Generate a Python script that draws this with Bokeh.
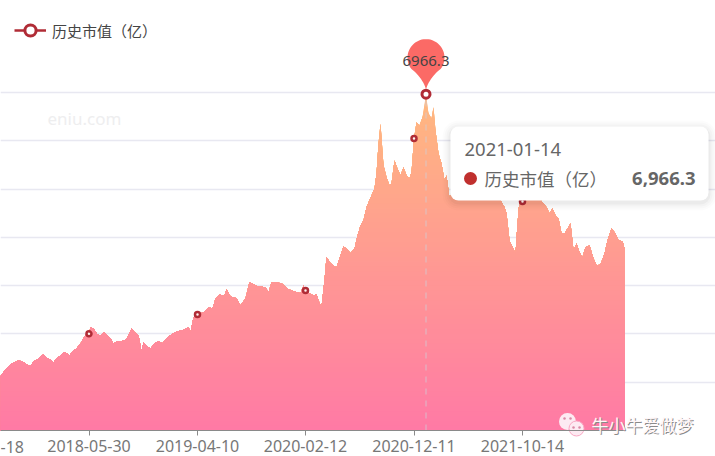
import numpy as np
from bokeh.embed import file_html
from bokeh.models import (BoxAnnotation, FixedTicker, Grid, Label, Legend, LegendItem,
                          LinearAxis, Range1d)
from bokeh.plotting import figure
from bokeh.resources import INLINE

# trading day number on the category axis, market cap in 100M yuan
days = [0, 6, 14, 22, 28, 36, 44, 52, 60, 66, 74, 80, 86, 94, 100, 106, 112, 120, 126, 132,
        138, 144, 152, 160, 166, 172, 177, 180, 186, 194, 200, 206, 214, 220, 226, 234, 240, 248, 254, 262,
        268, 276, 282, 286, 294, 300, 308, 316, 320, 324, 334, 344, 354, 366, 376, 380, 386, 394, 406, 416,
        424, 430, 438, 448, 452, 460, 472, 480, 490, 498, 504, 514, 530, 536, 542, 548, 562, 574, 586, 600,
        606, 610, 618, 626, 632, 636, 642, 648, 652, 660, 666, 672, 680, 686, 692, 700, 708, 714, 720, 726,
        732, 740, 748, 752, 756, 760, 766, 772, 778, 782, 788, 794, 800, 806, 812, 818, 822, 827, 832, 838,
        844, 851, 856, 862, 866, 870, 876, 882, 888, 892, 898, 910, 930, 950, 970, 990, 1000, 1008, 1012, 1018,
        1024, 1030, 1034, 1038, 1044, 1060, 1076, 1086, 1092, 1098, 1104, 1110, 1116, 1122, 1128, 1134, 1140, 1146, 1152, 1158,
        1164, 1170, 1178, 1186, 1192, 1200, 1208, 1214, 1222, 1230, 1236, 1244, 1248]
market_cap = [1125, 1207, 1311, 1388, 1408, 1450, 1429, 1367, 1332, 1429, 1470, 1539, 1574, 1497, 1470, 1408, 1491, 1553, 1622, 1601,
              1553, 1642, 1698, 1802, 1912, 2003, 2003, 2139, 2112, 1988, 1967, 2036, 1967, 1905, 1802, 1849, 1849, 1864, 1926, 2112,
              2036, 1967, 1642, 1822, 1740, 1692, 1808, 1849, 1829, 1808, 1932, 2003, 2057, 2085, 2139, 2036, 2346, 2402, 2450, 2554,
              2527, 2727, 2817, 2790, 2920, 2775, 2740, 2589, 2734, 3071, 3038, 2988, 2968, 2864, 3059, 3071, 3051, 2935, 2885, 2843,
              3003, 2899, 2837, 2796, 2817, 2692, 2554, 3107, 3589, 3465, 3417, 3370, 3624, 3811, 3763, 3672, 3763, 4038, 4246, 4349,
              4625, 4819, 5006, 5316, 5938, 6352, 5488, 5246, 5074, 5109, 5592, 5420, 5281, 5453, 5281, 5219, 5349, 6047, 6385, 6317,
              6489, 6966.3, 6565, 6462, 6696, 6213, 5737, 5530, 5178, 5281, 4805, 5074, 4970, 4867, 4970, 4805, 4763, 4625, 4494, 3935,
              3796, 3666, 4287, 4763, 4743, 4867, 4825, 4701, 4625, 4494, 4598, 4453, 4391, 4080, 4080, 4183, 4287, 3728, 3873, 3693,
              3589, 3796, 3831, 3562, 3417, 3438, 3659, 3935, 4183, 4080, 3935, 3920, 3769]

tick_days = [177, 394, 610, 827, 1044]
tick_labels = ["2018-05-30", "2019-04-10", "2020-02-12", "2020-12-11", "2021-10-14"]
mark_days = [177, 394, 610, 827, 1044]
mark_values = [2003, 2402, 2899, 6047, 4743]
grid_values = [1000, 2000, 3000, 4000, 5000, 6000, 7000]

first_label = "-18"
peak_day = 851
peak_value = 6966.3
peak_date = "2021-01-14"
series_name = "历史市值（亿）"

RED = "#b02c36"
CJK = "Noto Sans CJK SC"
LATIN = "Noto Sans"


def px_x(x):
    # picture pixel to axis value, one trading day is half a pixel
    return x * 2.0


def px_y(y):
    return (430 - y) * 1000 / 48.286


p = figure(width=715, height=456, output_backend="svg", toolbar_location=None,
           x_axis_location=None, y_axis_location=None, min_border=0,
           x_range=Range1d(px_x(0), px_x(715)), y_range=Range1d(px_y(456), px_y(0)))
p.outline_line_color = None
p.grid.visible = False

p.add_layout(Grid(dimension=1, ticker=FixedTicker(ticks=grid_values), bounds=(0, 1248),
                  grid_line_color="#e8e8f1", grid_line_width=1.5))

# area with a vertical gradient, painted top colour first
vals = np.array(market_cap, dtype=float)
for level in range(7000, 0, -100):
    t = level / 7000
    col = "#%02x%02x%02x" % (255, int(122 + 63 * t), int(166 - 38 * t))
    p.varea(days, np.zeros(len(days)), np.minimum(vals, level), fill_color=col)

axis = LinearAxis(ticker=FixedTicker(ticks=tick_days), fixed_location=0, bounds=(0, 1248),
                  major_label_overrides=dict(zip(tick_days, tick_labels)))
axis.axis_line_color = "#8a8a8a"
axis.major_tick_line_color = "#8a8a8a"
axis.major_tick_in = 0
axis.major_tick_out = 5
axis.minor_tick_line_color = None
axis.major_label_standoff = 4
axis.major_label_text_color = "#777777"
axis.major_label_text_font = LATIN
axis.major_label_text_font_size = "16px"
p.add_layout(axis, "below")

p.add_layout(Label(x=px_x(0), y=px_y(446), text=first_label, text_baseline="middle",
                   text_color="#777777", text_font=LATIN, text_font_size="16px"))

# hover line and pin at the peak
p.segment([peak_day], [0], [peak_day], [peak_value], line_color="#cfcfd8", line_alpha=0.75,
          line_width=1, line_dash="dashed")

ang = np.radians(np.linspace(-128, 128, 50))
top_x = peak_day + 37 * np.sin(ang)
top_y = peak_value + (36.5 + 18.5 * np.cos(ang)) * 1000 / 48.286
edge = np.linspace(0, 1, 12)
tip_y = peak_value + 5 * 1000 / 48.286
right_x = (1 - edge) ** 2 * top_x[-1] + 2 * edge * (1 - edge) * (peak_day + 8) + edge ** 2 * peak_day
right_y = (1 - edge) ** 2 * top_y[-1] + 2 * edge * (1 - edge) * (tip_y + 250) + edge ** 2 * tip_y
left_x = 2 * peak_day - right_x[::-1]
left_y = right_y[::-1]
p.patch(np.concatenate([top_x, right_x, left_x]), np.concatenate([top_y, right_y, left_y]),
        fill_color="#fb6a66", line_color=None)
p.add_layout(Label(x=peak_day, y=px_y(60), text="6966.3", text_align="center",
                   text_baseline="middle", text_color="#444444", text_font=LATIN,
                   text_font_size="15px"))

p.scatter(mark_days, mark_values, marker="circle", size=5, fill_color="#fff4f0",
          line_color=RED, line_width=2.5)
legend_line = p.line([peak_day, peak_day], [peak_value, peak_value], line_color=RED, line_width=2.5)
peak_mark = p.scatter([peak_day], [peak_value], marker="circle", size=8, fill_color="white",
                      line_color=RED, line_width=3)

# legend at the top left
legend = Legend(items=[LegendItem(label=series_name, renderers=[legend_line, peak_mark])],
                location=(14, 412), padding=0, margin=0, spacing=0, glyph_width=32, glyph_height=28,
                label_standoff=6, background_fill_alpha=0, border_line_color=None,
                label_text_font=CJK, label_text_font_size="15px", label_text_color="#444444")
p.add_layout(legend)

p.add_layout(Label(x=px_x(47), y=px_y(118), text="eniu.com", text_baseline="middle",
                   text_color="#eeeeef", text_font=LATIN, text_font_size="17px"))

# watermark bottom right
p.scatter([px_x(567)], [px_y(421)], marker="circle", size=17, fill_color="#fdeaf2", line_color=None)
p.scatter([px_x(576)], [px_y(428)], marker="circle", size=15, fill_color="#fdeaf2",
          line_color="#f9a8c4", line_width=1)
p.scatter([px_x(564), px_x(570), px_x(573), px_x(579)],
          [px_y(418), px_y(418), px_y(427), px_y(427)], marker="circle", size=2.5,
          fill_color="#d98aa6", line_color=None)
for dx, dy, col in [(1, 1, "#8a8a8a"), (0, 0, "#fff6f8")]:
    p.add_layout(Label(x=px_x(591 + dx), y=px_y(424 + dy), text="牛小牛爱做梦", text_baseline="middle",
                       text_color=col, text_font=CJK, text_font_size="17px"))

# tooltip
for grow, alpha in [(8, 0.012), (6, 0.015), (4, 0.02), (2, 0.03)]:
    p.add_layout(BoxAnnotation(left=px_x(450 - grow), right=px_x(708 + grow), top=px_y(126 - grow + 2),
                               bottom=px_y(200 + grow + 2), fill_color="black", fill_alpha=alpha,
                               line_color=None, border_radius=8 + grow))
p.add_layout(BoxAnnotation(left=px_x(450), right=px_x(708), top=px_y(126), bottom=px_y(200),
                           fill_color="white", fill_alpha=1, line_color=None, border_radius=8))
p.add_layout(Label(x=px_x(464), y=px_y(149), text=peak_date, text_baseline="middle",
                   text_color="#666666", text_font=LATIN, text_font_size="18.5px"))
p.scatter([px_x(470)], [px_y(178)], marker="circle", size=13, fill_color="#c0302e", line_color=None,
          level="overlay")
p.add_layout(Label(x=px_x(484), y=px_y(178), text=series_name, text_baseline="middle",
                   text_color="#666666", text_font=CJK, text_font_size="17.5px"))
p.add_layout(Label(x=px_x(695), y=px_y(178), text="{:,.1f}".format(peak_value), text_align="right",
                   text_baseline="middle", text_color="#666666", text_font=LATIN,
                   text_font_style="bold", text_font_size="18.5px"))

open("out.html", "w").write(file_html(p, INLINE))
